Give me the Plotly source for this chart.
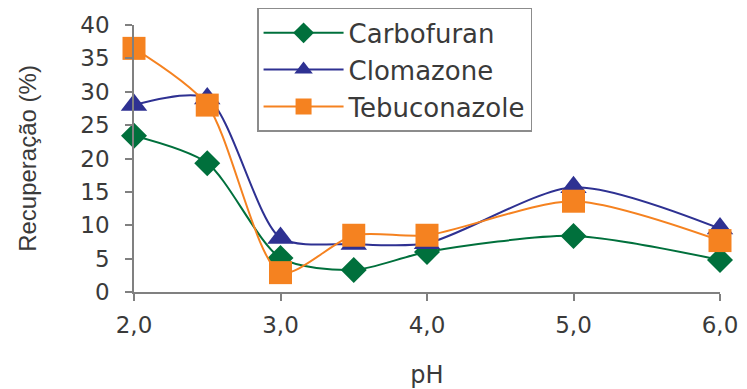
import plotly.graph_objects as go

ph = [2.0, 2.5, 3.0, 3.5, 4.0, 5.0, 6.0]
carbofuran = [23.4, 19.3, 5.1, 3.3, 6.0, 8.4, 4.8]
clomazone = [28.0, 29.0, 8.1, 7.2, 7.3, 15.7, 9.5]
tebuconazole = [36.5, 28.0, 2.9, 8.5, 8.5, 13.6, 7.7]

x_ticks = [2, 3, 4, 5, 6]
x_tick_text = ["2,0", "3,0", "4,0", "5,0", "6,0"]

series = [
    ("Carbofuran", carbofuran, "#00703C", "diamond", 20),
    ("Clomazone", clomazone, "#2E3192", "triangle-up", 23),
    ("Tebuconazole", tebuconazole, "#F58220", "square", 23),
]

fig = go.Figure()
for name, vals, color, symbol, size in series:
    fig.add_trace(go.Scatter(
        x=ph, y=vals, name=name, mode="lines+markers", legendgroup=name,
        line=dict(color=color, width=2, shape="spline", smoothing=0.75),
        marker=dict(symbol=symbol, size=size, color=color),
        cliponaxis=False,
    ))

wide = "DejaVu Sans, Verdana, sans-serif"
txt = "#3a3a3a"

fig.update_layout(
    width=747, height=389,
    margin=dict(l=134, r=27, t=25, b=97, autoexpand=False),
    paper_bgcolor="white", plot_bgcolor="white",
    font=dict(family=wide, size=23, color=txt),
    showlegend=True,
    legend=dict(
        x=0.21, y=1.064, xanchor="left", yanchor="top",
        bordercolor="#8c8c8c", borderwidth=1.5, bgcolor="white",
        font=dict(family=wide, size=26, color=txt),
        itemwidth=80, tracegroupgap=0,
    ),
    xaxis=dict(
        range=[2, 6], tickvals=x_ticks, ticktext=x_tick_text, automargin=False,
        showgrid=False, zeroline=False, showline=True, linecolor="#808080", linewidth=1.5,
        ticks="outside", ticklen=7, tickcolor="#808080", tickwidth=1.5,
        ticklabelstandoff=5,
        title=dict(text="pH", standoff=30, font=dict(family=wide, size=24, color=txt)),
    ),
    yaxis=dict(
        range=[0, 40], dtick=5, automargin=False,
        showgrid=False, zeroline=False, showline=True, linecolor="#808080", linewidth=1.5,
        ticks="outside", ticklen=7, tickcolor="#808080", tickwidth=1.5,
        ticklabelstandoff=11,
        title=dict(text="Recuperação (%)", standoff=37,
                   font=dict(family="Liberation Sans, Arial, sans-serif", size=24, color=txt)),
    ),
)

fig.write_html("out.html")
